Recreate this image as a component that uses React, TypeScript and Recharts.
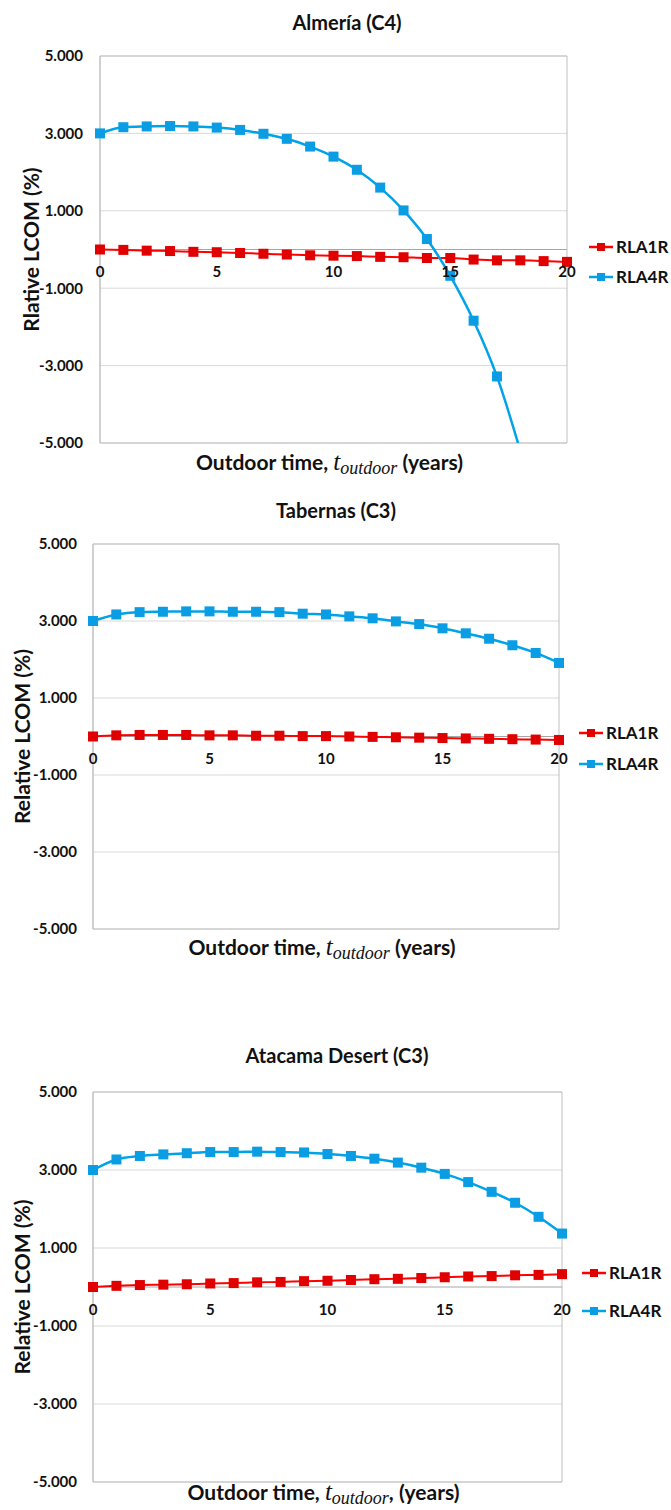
import React from 'react';
import {
  LineChart,
  Line,
  XAxis,
  YAxis,
  CartesianGrid,
  ReferenceLine,
  ReferenceArea,
  ReferenceDot,
  Legend,
} from 'recharts';

// ---------- data ----------
const years = [0, 1, 2, 3, 4, 5, 6, 7, 8, 9, 10, 11, 12, 13, 14, 15, 16, 17, 18, 19, 20];
const xTicks = [0, 5, 10, 15, 20];
const yTicks = [-5, -3, -1, 1, 3, 5];
const seriesNames = ['RLA1R', 'RLA4R'];

const almeriaRLA1R = [0, -0.01, -0.03, -0.04, -0.06, -0.07, -0.09, -0.11, -0.13, -0.15, -0.16, -0.17, -0.19, -0.2, -0.22, -0.22, -0.26, -0.28, -0.28, -0.3, -0.32];
const almeriaRLA4R = [3.0, 3.16, 3.18, 3.19, 3.18, 3.15, 3.09, 2.99, 2.86, 2.66, 2.4, 2.06, 1.6, 1.01, 0.27, -0.68, -1.84, -3.28, -5.2, null, null];

const tabernasRLA1R = [0, 0.03, 0.04, 0.04, 0.04, 0.03, 0.03, 0.02, 0.02, 0.01, 0.01, 0, -0.01, -0.02, -0.03, -0.04, -0.05, -0.06, -0.07, -0.08, -0.09];
const tabernasRLA4R = [3.0, 3.17, 3.23, 3.24, 3.25, 3.25, 3.24, 3.24, 3.23, 3.19, 3.17, 3.12, 3.07, 2.99, 2.92, 2.81, 2.68, 2.54, 2.37, 2.17, 1.91];

const atacamaRLA1R = [0, 0.03, 0.05, 0.06, 0.07, 0.09, 0.1, 0.12, 0.13, 0.15, 0.16, 0.18, 0.2, 0.21, 0.23, 0.25, 0.27, 0.28, 0.3, 0.31, 0.33];
const atacamaRLA4R = [3.0, 3.27, 3.36, 3.4, 3.43, 3.46, 3.46, 3.47, 3.46, 3.45, 3.41, 3.36, 3.29, 3.19, 3.06, 2.9, 2.69, 2.44, 2.16, 1.8, 1.37];

// ---------- style ----------
const RED = '#FF0000';
const RED_MARK = '#E00000';
const BLUE = '#00A2E8';
const BLUE_MARK = '#0A9DE3';
const SANS = 'Lato, "Open Sans", sans-serif';
const SERIF = '"Liberation Serif", "DejaVu Serif", serif';
const TEXT = '#111111';

function buildRows(a: (number | null)[], b: (number | null)[]) {
  return years.map((t, i) => ({ t, [seriesNames[0]]: a[i], [seriesNames[1]]: b[i] }));
}

const squareDot = (fill: string) => (props: any) => {
  const { cx, cy, index } = props;
  if (cx == null || cy == null || Number.isNaN(cx) || Number.isNaN(cy)) return <g key={`n${index}`} />;
  return <rect key={`d${index}`} x={cx - 5} y={cy - 5} width={10} height={10} fill={fill} />;
};

type Cfg = {
  top: number;
  height: number;
  title: string;
  titleX: number;
  titleY: number;
  plotLeft: number;
  plotRight: number;
  plotTop: number;
  plotBottom: number;
  tickGap: number;
  yLabel: string;
  yLabelX: number;
  xTitleDy: number;
  comma: boolean;
  legendX: number;
  legendY: number;
  legendGap: number;
  red: (number | null)[];
  blue: (number | null)[];
};

const panels: Cfg[] = [
  {
    top: 0, height: 480, title: 'Almería (C4)', titleX: 347, titleY: 22,
    plotLeft: 100, plotRight: 567, plotTop: 56, plotBottom: 443, tickGap: 17,
    yLabel: 'Rlative LCOM (%)', yLabelX: 30, xTitleDy: 19, comma: false,
    legendX: 589, legendY: 247, legendGap: 30,
    red: almeriaRLA1R, blue: almeriaRLA4R,
  },
  {
    top: 480, height: 520, title: 'Tabernas (C3)', titleX: 336, titleY: 30,
    plotLeft: 93, plotRight: 559, plotTop: 64, plotBottom: 449, tickGap: 16,
    yLabel: 'Relative LCOM (%)', yLabelX: 21, xTitleDy: 18, comma: false,
    legendX: 579, legendY: 253, legendGap: 31,
    red: tabernasRLA1R, blue: tabernasRLA4R,
  },
  {
    top: 1000, height: 510, title: 'Atacama Desert (C3)', titleX: 337, titleY: 55,
    plotLeft: 93, plotRight: 562, plotTop: 92, plotBottom: 482, tickGap: 16,
    yLabel: 'Relative LCOM (%)', yLabelX: 21, xTitleDy: 10, comma: true,
    legendX: 582, legendY: 273, legendGap: 38,
    red: atacamaRLA1R, blue: atacamaRLA4R,
  },
];

const LegendContent = ({ payload, gap }: any) => {
  const items = (payload || []).slice();
  return (
    <div style={{ fontFamily: SANS, fontWeight: 700, fontSize: 17, color: TEXT }}>
      {items.map((it: any, i: number) => {
        const isRed = it.value === seriesNames[0];
        return (
          <div
            key={it.value}
            style={{ display: 'flex', alignItems: 'center', height: 20, marginTop: i === 0 ? 0 : gap - 20, whiteSpace: 'nowrap' }}
          >
            <svg width={24} height={20} style={{ display: 'block' }}>
              <line x1={0} y1={10} x2={24} y2={10} stroke={it.color} strokeWidth={2.5} />
              <rect x={8} y={6} width={8} height={8} fill={isRed ? RED_MARK : BLUE_MARK} />
            </svg>
            <span style={{ marginLeft: 3, lineHeight: '20px' }}>{it.value}</span>
          </div>
        );
      })}
    </div>
  );
};

function Panel({ cfg }: { cfg: Cfg }) {
  const data = buildRows(cfg.red, cfg.blue);
  const plotCx = (cfg.plotLeft + cfg.plotRight) / 2 - 4;
  const plotCy = (cfg.plotTop + cfg.plotBottom) / 2;
  const xTitleY = cfg.plotBottom + cfg.xTitleDy + 8;

  const XTitle = () => (
    <text x={plotCx} y={xTitleY} textAnchor="middle" fontFamily={SANS} fontWeight={700} fontSize={21} fill={TEXT}>
      <tspan>Outdoor time, </tspan>
      <tspan fontFamily={SERIF} fontStyle="italic" fontWeight={400} fontSize={25}>t</tspan>
      <tspan fontFamily={SERIF} fontStyle="italic" fontWeight={400} fontSize={18} dy={4}>outdoor</tspan>
      <tspan dy={-4}>{cfg.comma ? ', (years)' : ' (years)'}</tspan>
    </text>
  );

  const YTitle = () => (
    <text
      x={cfg.yLabelX}
      y={plotCy}
      transform={`rotate(-90 ${cfg.yLabelX} ${plotCy})`}
      textAnchor="middle"
      dominantBaseline="central"
      fontFamily={SANS}
      fontWeight={700}
      fontSize={21}
      fill={TEXT}
    >
      {cfg.yLabel}
    </text>
  );

  return (
    <div style={{ position: 'absolute', left: 0, top: cfg.top, width: 671, height: cfg.height }}>
      <div
        style={{
          position: 'absolute',
          left: cfg.titleX - 150,
          width: 300,
          top: cfg.titleY - 12,
          lineHeight: '24px',
          textAlign: 'center',
          fontFamily: SANS,
          fontWeight: 700,
          fontSize: 20,
          color: TEXT,
          zIndex: 2,
        }}
      >
        {cfg.title}
      </div>
      <LineChart
        width={671}
        height={cfg.height}
        data={data}
        margin={{ top: cfg.plotTop, right: 671 - cfg.plotRight, bottom: 0, left: 0 }}
      >
        <CartesianGrid horizontal vertical={false} stroke="#d9d9d9" />
        <ReferenceArea x1={0} x2={20} y1={-5} y2={5} fill="none" stroke="#c0c0c0" strokeWidth={1} ifOverflow="visible" />
        <XAxis
          type="number"
          dataKey="t"
          domain={[0, 20]}
          ticks={xTicks}
          tick={false}
          tickLine={false}
          axisLine={false}
          height={cfg.height - cfg.plotBottom}
          label={{ content: () => <XTitle /> }}
        />
        <YAxis
          type="number"
          domain={[-5, 5]}
          ticks={yTicks}
          allowDataOverflow
          width={cfg.plotLeft}
          tickFormatter={(v: number) => v.toFixed(3)}
          tick={{ fontSize: 15, fontWeight: 700, fill: TEXT, fontFamily: SANS }}
          tickLine={false}
          tickSize={0}
          tickMargin={cfg.tickGap}
          axisLine={{ stroke: '#c0c0c0' }}
          label={{ content: () => <YTitle /> }}
        />
        <ReferenceLine y={0} stroke="#a6a6a6" strokeWidth={1} />
        {xTicks.map((t) => (
          <ReferenceDot
            key={`xt${t}`}
            x={t}
            y={0}
            r={0}
            fill="none"
            stroke="none"
            label={{ value: String(t), position: 'bottom', offset: 17, fontSize: 15, fontWeight: 700, fill: TEXT, fontFamily: SANS }}
          />
        ))}
        <Line
          type="monotone"
          dataKey={seriesNames[0]}
          name={seriesNames[0]}
          stroke={RED}
          strokeWidth={2}
          dot={squareDot(RED_MARK)}
          activeDot={false}
          isAnimationActive={false}
        />
        <Line
          type="monotone"
          dataKey={seriesNames[1]}
          name={seriesNames[1]}
          stroke={BLUE}
          strokeWidth={2.5}
          dot={squareDot(BLUE_MARK)}
          activeDot={false}
          isAnimationActive={false}
        />
        <Legend
          layout="vertical"
          align="center"
          verticalAlign="middle"
          wrapperStyle={{ left: cfg.legendX, top: cfg.legendY - 10, width: 90, margin: 0, padding: 0 }}
          content={(p: any) => <LegendContent payload={p.payload} gap={cfg.legendGap} />}
        />
      </LineChart>
    </div>
  );
}

export default function App() {
  return (
    <div style={{ position: 'absolute', left: 0, top: 0, width: 671, height: 1510, background: '#fff' }}>
      {panels.map((cfg) => (
        <Panel key={cfg.title} cfg={cfg} />
      ))}
    </div>
  );
}
